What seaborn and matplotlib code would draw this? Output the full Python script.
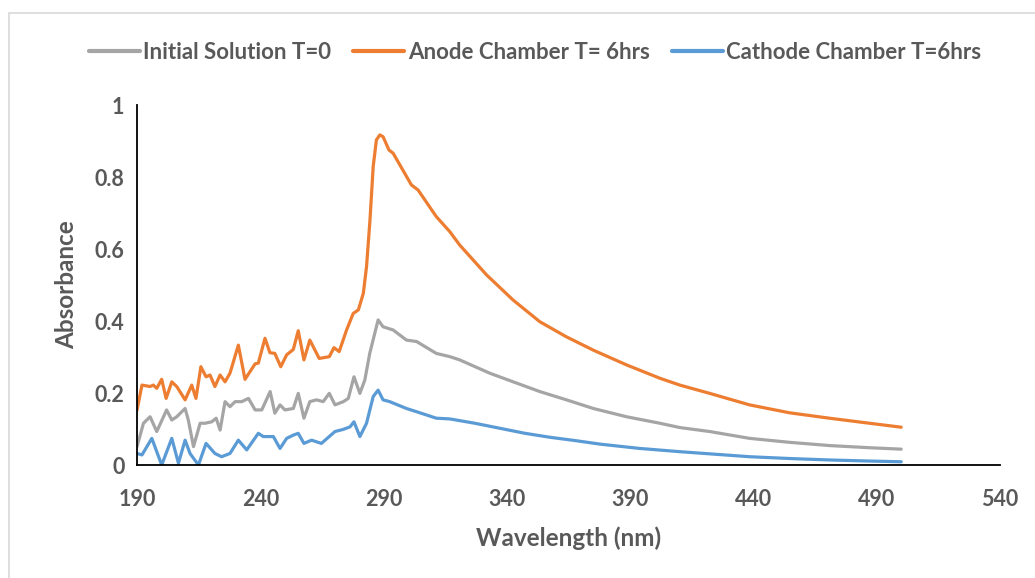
import pandas as pd
import seaborn as sns
import matplotlib.pyplot as plt
from matplotlib.patches import Rectangle

# values
wl_initial = [190, 192.6, 195.3, 198, 202, 204.1, 206.1, 209.5, 210.8, 212.9, 215.6, 217.6,
              220.3, 222.1, 223.7, 225.7, 227.7, 229.8, 232.5, 235.2, 237.9, 240.6, 244, 245.9,
              248, 250, 253.4, 255.4, 257.7, 260.1, 262.8, 265.5, 268, 270.3, 273.7, 275.7,
              278, 280.4, 282.4, 284.4, 287.8, 289.8, 293.9, 299.3, 303.4, 311.4, 316.9,
              320.9, 333.1, 342.6, 353.4, 364.2, 375.1, 388.6, 402.1, 410.2, 422.3, 438.5,
              454.7, 470.9, 487.1, 500]
abs_initial = [0.051, 0.116, 0.134, 0.093, 0.153, 0.125, 0.134, 0.157, 0.125, 0.051, 0.116, 0.116,
               0.120, 0.130, 0.097, 0.176, 0.162, 0.176, 0.176, 0.185, 0.153, 0.153, 0.204, 0.144,
               0.167, 0.153, 0.157, 0.199, 0.130, 0.176, 0.181, 0.176, 0.199, 0.167, 0.176, 0.185,
               0.245, 0.199, 0.236, 0.310, 0.403, 0.384, 0.375, 0.347, 0.343, 0.310, 0.301,
               0.292, 0.255, 0.231, 0.204, 0.181, 0.157, 0.134, 0.116, 0.104, 0.093, 0.074,
               0.063, 0.054, 0.048, 0.044]

wl_anode = [190, 192, 195.3, 196.6, 198, 200, 201.8, 204.1, 206.1, 209.5, 212.2, 213.9, 215.9,
            218, 219.6, 221.6, 223.7, 225.7, 227.7, 231.1, 233.8, 237.9, 239.2, 241.9, 243.9,
            245.9, 248.3, 250.7, 253.4, 255.4, 257.7, 260.1, 263.9, 268, 269.9, 272, 275,
            277.7, 279.8, 281.8, 283.1, 284.5, 285.8, 287.1, 288.5, 289.8, 292.2, 293.9,
            301.3, 304, 311.4, 316.9, 320.9, 331.8, 342.6, 353.4, 364.2, 375.1, 388.6, 402.1,
            410.2, 422.3, 438.5, 454.7, 470.9, 487.1, 500]
abs_anode = [0.153, 0.222, 0.218, 0.222, 0.213, 0.238, 0.185, 0.231, 0.218, 0.181, 0.222, 0.185, 0.273,
             0.245, 0.250, 0.218, 0.250, 0.231, 0.255, 0.333, 0.238, 0.281, 0.283, 0.352, 0.312,
             0.310, 0.273, 0.306, 0.321, 0.373, 0.292, 0.347, 0.296, 0.301, 0.326, 0.315, 0.375,
             0.421, 0.431, 0.477, 0.551, 0.681, 0.829, 0.903, 0.917, 0.912, 0.875, 0.866,
             0.778, 0.764, 0.690, 0.648, 0.611, 0.528, 0.458, 0.398, 0.356, 0.319, 0.278, 0.241,
             0.222, 0.199, 0.167, 0.145, 0.130, 0.116, 0.105]

wl_cathode = [190, 192, 196, 200, 204.1, 206.8, 209.5, 211.5, 214.9, 218, 221.6, 224.3, 227.7,
              231.1, 234.5, 239.2, 241.2, 245.3, 248, 250.7, 253.4, 255.4, 257.7, 260.8, 264.8,
              270.3, 273.7, 276.4, 278, 280.4, 283.1, 285.8, 287.8, 289.8, 292.5, 299.3, 303.4,
              311.4, 316.9, 327, 337.2, 347.4, 357.5, 367.6, 377.8, 393.9, 410.2, 422.3, 438.5,
              454.7, 470.9, 487.1, 500]
abs_cathode = [0.032, 0.028, 0.074, 0.0, 0.074, 0.005, 0.069, 0.032, 0.0, 0.060, 0.032, 0.023, 0.032,
               0.069, 0.042, 0.088, 0.079, 0.079, 0.046, 0.074, 0.083, 0.088, 0.060, 0.069, 0.060,
               0.093, 0.099, 0.106, 0.120, 0.079, 0.116, 0.190, 0.208, 0.181, 0.176, 0.157, 0.148,
               0.130, 0.128, 0.116, 0.102, 0.088, 0.077, 0.068, 0.058, 0.046, 0.037, 0.031, 0.023,
               0.018, 0.014, 0.011, 0.009]

series_names = ['Initial Solution T=0', 'Anode Chamber T= 6hrs', 'Cathode Chamber T=6hrs']
colors = ['#A5A5A5', '#ED7D31', '#5B9BD5']

frames = []
for name, wl, ab in zip(series_names,
                        [wl_initial, wl_anode, wl_cathode],
                        [abs_initial, abs_anode, abs_cathode]):
    frames.append(pd.DataFrame({'Wavelength': wl, 'Absorbance': ab, 'Series': name}))
df = pd.concat(frames, ignore_index=True)

sns.set_style('white')
plt.rcParams['font.family'] = ['Lato', 'DejaVu Sans']
text_color = '#595959'

fig = plt.figure(figsize=(10.35, 5.78), dpi=100)
ax = fig.add_axes([0.1324, 0.1955, 0.8336, 0.6228])

sns.lineplot(data=df, x='Wavelength', y='Absorbance', hue='Series', hue_order=series_names,
             palette=colors, linewidth=2.3, estimator=None, sort=False, ax=ax,
             solid_joinstyle='round', solid_capstyle='round')

ax.set_xlim(190, 540)
ax.set_ylim(0, 1)
ax.set_xticks(range(190, 541, 50))
ax.set_yticks([0, 0.2, 0.4, 0.6, 0.8, 1])
ax.set_yticklabels(['0', '0.2', '0.4', '0.6', '0.8', '1'])

for side in ['top', 'right']:
    ax.spines[side].set_visible(False)
for side in ['left', 'bottom']:
    ax.spines[side].set_color('black')
    ax.spines[side].set_linewidth(1.3)

ax.tick_params(axis='y', direction='out', length=6, width=1.3, color='black',
               labelsize=15.5, labelcolor=text_color, pad=3)
ax.tick_params(axis='x', length=0, labelsize=15.5, labelcolor=text_color, pad=17)
for lbl in ax.get_xticklabels() + ax.get_yticklabels():
    lbl.set_fontweight('bold')

ax.set_xlabel('Wavelength (nm)', fontsize=17.5, fontweight='bold', color=text_color, labelpad=12)
ax.set_ylabel('Absorbance', fontsize=17.5, fontweight='bold', color=text_color, labelpad=12)

handles, labels = ax.get_legend_handles_labels()
ax.get_legend().remove()
leg = fig.legend(handles, labels, loc='center', bbox_to_anchor=(0.517, 0.91), ncol=3,
                 frameon=False, handlelength=2.3, handletextpad=0.15, columnspacing=1.0,
                 prop={'size': 16, 'weight': 'bold'})
for t in leg.get_texts():
    t.set_color(text_color)
for line in leg.get_lines():
    line.set_linewidth(3)

# light outer chart border
fig.patches.append(Rectangle((9 / 1035, -0.05), 1.2, 1 - 13 / 578 + 0.05,
                             transform=fig.transFigure, fill=False,
                             edgecolor='#d9d9d9', linewidth=1.2))

fig.savefig('out.png', dpi=100)
